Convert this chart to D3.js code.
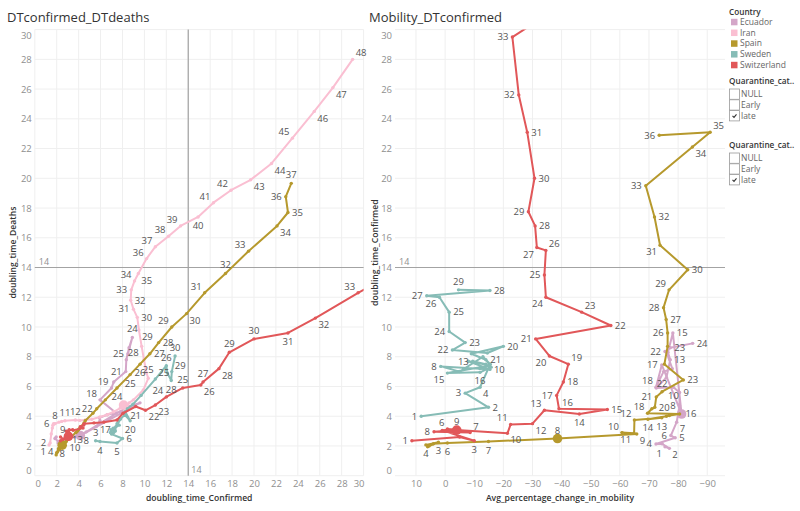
<!DOCTYPE html>
<html><head><meta charset="utf-8">
<script src="https://cdn.jsdelivr.net/npm/d3@7"></script>
<style>
body{margin:0;background:#fff;}
text{font-family:"Open Sans",sans-serif;}
</style></head><body>
<svg id="chart" width="800" height="511"></svg>
<script>
// ---------------- DATA ----------------
const countries = ["Ecuador", "Iran", "Spain", "Sweden", "Switzerland"];
const countryColors = ["#D4A6C8", "#FABFD2", "#B6992D", "#86BCB6", "#E15759"];

// rows: [day, doubling_time_Confirmed, doubling_time_Deaths, Avg_percentage_change_in_mobility]
const ecuador = [
  [1,1.95,2.6,-75.5],[2,1.84,2.5,-77.0],[3,2.15,2.3,-74.5],[4,2.13,2.2,-72.4],[5,2.55,2.35,-79.0],
  [6,2.7,2.5,-77.5],[7,3.6,2.6,-79.5],[8,4.7,2.95,-80.5],[9,5.6,3.3,-80.5],[10,5.95,3.7,-78.4],
  [11,5.9,3.9,-72.5],[12,6.6,4.1,-76.0],[13,7.8,4.3,-77.3],[14,8.3,4.6,-76.5],[15,9.6,4.9,-78.2],
  [16,4.15,2.7,-81.2],[17,7.45,4.2,-74.4],[18,5.95,5.1,-72.4],[19,7.0,5.9,-75.0],[20,7.2,6.3,-78.0],
  [21,8.3,7.0,-76.0],[22,8.35,7.8,-75.5],[23,8.6,8.6,-77.3],[24,8.9,9.3,-85.0],[25,8.5,8.2,null]
];
const iran = [
  [1,1.3,2.06,null],[2,1.4,2.2,null],[3,1.5,2.8,null],[4,1.6,3.2,null],[5,1.65,3.4,null],
  [6,1.7,3.48,null],[7,1.75,3.5,null],[8,1.85,3.5,null],[9,2.2,3.6,null],[10,2.45,3.65,null],
  [11,2.75,3.7,null],[12,3.7,3.75,null],[13,4.1,3.72,null],[14,4.6,3.75,null],[15,5.2,3.8,null],
  [16,5.95,3.95,null],[17,6.6,4.1,null],[18,7.2,4.3,null],[19,7.8,4.55,null],[20,8.1,4.75,null],
  [21,8.4,4.7,null],[22,8.6,4.9,null],[23,9.0,5.1,null],[24,9.9,5.76,null],[25,10.35,6.55,null],
  [26,10.2,6.9,null],[27,9.96,7.8,null],[28,9.75,8.7,null],[29,9.5,9.8,null],[30,9.35,10.65,null],
  [31,9.0,11.2,null],[32,8.75,11.8,null],[33,8.8,12.5,null],[34,9.1,13.1,null],[35,9.45,13.6,null],
  [36,10.2,14.6,null],[37,11.0,15.4,null],[38,12.2,16.1,null],[39,13.3,16.8,null],[40,14.9,17.4,null],
  [41,16.3,18.36,null],[42,17.9,19.2,null],[43,19.7,19.9,null],[44,21.6,21.0,null],[45,23.5,22.7,null],
  [46,25.5,24.5,null],[47,27.2,26.1,null],[48,29.0,28.0,null]
];
const spain = [
  [1,1.95,1.4,6.0],[2,2.0,1.55,5.5],[3,2.25,1.75,2.3],[4,2.07,1.6,6.6],[5,2.15,1.8,4.0],
  [6,2.2,1.85,-0.8],[7,2.3,1.95,-14.9],[8,2.5,2.05,-38.6],[9,2.8,2.25,-65.8],[10,2.9,2.35,-60.7],
  [11,2.85,2.3,-64.9],[12,3.75,2.9,-65.0],[13,3.9,3.0,-74.4],[14,3.8,2.95,-69.6],[15,4.0,3.1,-76.0],
  [16,4.05,3.15,-77.0],[17,4.15,3.25,-80.5],[18,4.2,3.3,-69.5],[19,4.5,3.55,-71.0],[20,4.6,3.7,-72.0],
  [21,5.3,4.2,-72.5],[22,5.65,4.5,-74.5],[23,6.44,5.1,-81.8],[24,7.5,5.9,-75.3],[25,8.7,6.8,-76.4],
  [26,9.6,7.5,-76.4],[27,10.5,8.2,-75.9],[28,11.3,8.95,-75.0],[29,12.5,10.0,-76.9],[30,13.85,10.9,-83.3],
  [31,15.5,12.3,-73.8],[32,17.4,13.6,-71.9],[33,19.5,15.1,-68.9],[34,22.1,16.8,-84.9],[35,23.1,17.7,-91.0],
  [36,22.9,18.76,-73.5],[37,23.4,19.66,null]
];
const sweden = [
  [1,4.0,null,8.2],[2,4.6,null,-14.9],[3,5.55,2.35,-6.9],[4,5.95,2.3,-12.0],[5,7.5,2.2,-15.5],
  [6,8.0,2.5,-13.0],[7,7.0,2.8,-5.0],[8,7.35,3.0,1.5],[9,7.2,2.9,-12.0],[10,7.15,3.2,-15.4],
  [11,7.7,3.4,-8.0],[12,7.5,3.5,-14.0],[13,7.7,3.8,-9.5],[14,7.4,3.3,-15.0],[15,6.9,2.9,-0.8],
  [16,6.95,3.1,-12.0],[17,7.3,3.1,-15.8],[18,7.8,3.8,-14.0],[19,8.2,4.1,-9.0],[20,8.7,3.7,-20.0],
  [21,8.25,4.3,-14.5],[22,8.45,4.5,-2.5],[23,8.95,4.8,-6.9],[24,9.7,5.4,-1.4],[25,11.0,6.5,-1.4],
  [26,12.0,7.4,1.95],[27,12.1,6.9,6.3],[28,12.45,6.4,-15.4],[29,12.5,7.0,-4.6],[30,12.8,8.05,null]
];
const switzerland = [
  [1,2.35,2.6,11.4],[2,2.6,2.45,-5.0],[3,2.35,2.35,-10.0],[4,3.05,2.6,1.0],[5,3.1,2.9,-3.0],
  [6,3.14,3.1,-0.8],[7,2.9,2.75,-8.6],[8,2.96,2.6,3.8],[9,3.07,2.65,-4.0],[10,2.85,3.0,-21.4],
  [11,3.45,3.1,-22.5],[12,3.5,3.05,-30.0],[13,4.4,3.2,-34.1],[14,4.15,3.3,-46.1],[15,4.45,3.4,-55.7],
  [16,4.5,3.5,-39.1],[17,5.4,3.55,-38.3],[18,6.3,3.6,-40.6],[19,7.5,3.75,-42.3],[20,8.05,4.2,-35.8],
  [21,9.2,4.65,-31.1],[22,10.1,4.4,-56.9],[23,11.0,4.75,-46.9],[24,12.0,5.3,-34.6],[25,13.5,5.9,-34.1],
  [26,15.15,6.1,-34.6],[27,15.35,6.3,-31.5],[28,16.8,7.2,-30.9],[29,17.75,8.3,-28.6],[30,20.0,9.2,-30.7],
  [31,23.1,9.6,-28.2],[32,25.6,10.6,-25.3],[33,29.5,12.3,-23.1],[34,31.5,13.1,-39.0]
];
const seriesData = [ecuador, iran, spain, sweden, switzerland];

const yTicks = [0,2,4,6,8,10,12,14,16,18,20,22,24,26,28,30];
const leftXTicks = [0,2,4,6,8,10,12,14,16,18,20,22,24,26,28,30];
const rightXTicks = [10,0,-10,-20,-30,-40,-50,-60,-70,-80,-90];
const referenceValue = 14;
const bigPointDays = [[16],[20],[8],[],[9]];   // highlighted day per country
const quarantineOptions = ["NULL", "Early", "late"];
const quarantineChecked = ["late"];

// labelled days per country (layout hint after colon)
const leftLabelSpec = [
  "24:t 25:l 21:l 19:tl 18:tl 8:b",
  "48:tr 47:br 46:br 45:tl 44:br 43:br 42:tl 41:tl 40:b 39:tl 38:tl 37:tl 36:tl 35:br 34:tl 33:l 32:r 31:l 30:r 29:br 28:bl 25:t 12:t 11:t 8:t 6:l 2:l 1:bl",
  "37:t 36:l 35:r 34:br 33:tl 32:t 31:tl 30:br 29:tl 28:r 27:r 26:b 25:b 24:b 22:l 13:b 10:br 8:b 4:l",
  "30:t 29:tr 28:b 26:t 25:tr 20:b 17:l 6:r 5:b 4:b 3:t",
  "33:tl 32:br 31:b 30:t 29:t 28:br 27:t 26:br 25:t 24:tl 23:br 22:br 21:b 9:tl"
];
const rightLabelSpec = [
  "24:r 23:r 22:l 15:r 13:r 17:l 18:tl 10:b 9:r 8:l 16:r 7:br 6:l 5:r 4:l 1:bl 2:br",
  "",
  "36:l 35:tr 34:br 33:l 32:r 31:bl 30:r 29:tl 28:l 27:r 26:l 23:r 22:t 21:l 20:r 18:tl 14:b 13:b 12:tl 11:bl 10:tl 9:br 8:t 7:b 6:b 4:b 3:b",
  "29:t 28:r 27:l 26:bl 25:r 24:l 23:r 22:l 21:br 20:r 16:b 15:bl 13:l 10:r 8:l 4:br 3:l 2:r 1:l",
  "33:l 32:l 31:r 30:r 29:l 28:r 27:bl 26:tr 25:l 24:bl 23:tr 22:r 21:l 20:bl 19:tr 18:r 17:l 16:tr 15:r 14:b 13:tl 12:br 11:tl 10:br 9:t 8:l 7:tr 6:tl 3:b 1:l"
];

// ---------------- DRAW ----------------
const svg = d3.select("#chart");
const plotTop = 29.6, plotBottom = 475.7;
const y = d3.scaleLinear().domain([0,30]).range([plotBottom, plotTop]);
const xL = d3.scaleLinear().domain([0,30]).range([34.8, 363.6]);
const xR = d3.scaleLinear().domain([17.2,-96.1]).range([395, 725]);

const tickColor = "#8f8f8f", gridColor = "#efefef", refColor = "#a3a3a3";

function panel(opts) {
  const {x, xTicks, title, titleX, xTitle, yTitle, yTitleX, xField, yField, labelSpec, clipId, vRef} = opts;
  const [x0, x1] = x.range();
  const g = svg.append("g");
  svg.append("text").attr("x", titleX).attr("y", 22).attr("font-size", 13).attr("fill", "#333").text(title);
  g.selectAll(".vg").data(xTicks).join("line")
    .attr("x1", d => x(d)).attr("x2", d => x(d)).attr("y1", plotTop).attr("y2", plotBottom)
    .attr("stroke", gridColor).attr("stroke-width", 1);
  g.selectAll(".hg").data(yTicks).join("line")
    .attr("x1", x0).attr("x2", x1).attr("y1", d => y(d)).attr("y2", d => y(d))
    .attr("stroke", gridColor).attr("stroke-width", 1);
  const ya = g.append("g").attr("transform", `translate(${x0},0)`)
    .call(d3.axisLeft(y).tickValues(yTicks).tickSize(0).tickPadding(3));
  ya.select(".domain").remove();
  ya.selectAll("text").attr("font-size", 9.5).attr("fill", tickColor).attr("font-family", "Open Sans")
    .attr("transform", d => d === 30 ? "translate(0,5.5)" : d === 0 ? "translate(0,-5.5)" : null);
  const xa = g.append("g").attr("transform", `translate(0,${plotBottom})`)
    .call(d3.axisBottom(x).tickValues(xTicks).tickSize(0).tickPadding(5));
  xa.select(".domain").remove();
  xa.selectAll("text").attr("font-size", 9.5).attr("fill", tickColor).attr("font-family", "Open Sans")
    .attr("transform", d => (x === xL && d === 0) ? "translate(3,0)" : (x === xL && d === 30) ? "translate(-5,0)" : null);
  svg.append("text").attr("x", (x0 + x1) / 2).attr("y", 501).attr("text-anchor", "middle")
    .attr("font-size", 8.6).attr("font-weight", 600).attr("fill", "#333").text(xTitle);
  svg.append("text").attr("transform", `translate(${yTitleX},${(plotTop + plotBottom) / 2}) rotate(-90)`)
    .attr("text-anchor", "middle").attr("dy", "0.35em")
    .attr("font-size", 8.6).attr("font-weight", 600).attr("fill", "#333").text(yTitle);
  g.append("line").attr("x1", x0).attr("x2", x1).attr("y1", y(referenceValue)).attr("y2", y(referenceValue))
    .attr("stroke", refColor).attr("stroke-width", 1.2);
  g.append("text").attr("x", x0 + 4).attr("y", y(referenceValue) - 3).attr("font-size", 9)
    .attr("fill", tickColor).text(referenceValue);
  if (vRef) {
    g.append("line").attr("x1", x(referenceValue)).attr("x2", x(referenceValue)).attr("y1", plotTop).attr("y2", plotBottom)
      .attr("stroke", refColor).attr("stroke-width", 1.2);
    g.append("text").attr("x", x(referenceValue) + 3).attr("y", plotBottom - 3).attr("font-size", 9)
      .attr("fill", tickColor).text(referenceValue);
  }
  svg.append("clipPath").attr("id", clipId).append("rect")
    .attr("x", x0).attr("y", plotTop).attr("width", x1 - x0).attr("height", plotBottom - plotTop);
  const marks = svg.append("g").attr("clip-path", `url(#${clipId})`);
  const labels = svg.append("g");
  const offs = {r:[4,0,"start","0.35em"], l:[-4,0,"end","0.35em"], t:[0,-5,"middle","0em"], b:[0,5,"middle","0.75em"],
    tr:[3,-3,"start","0em"], tl:[-3,-3,"end","0em"], br:[3,3,"start","0.75em"], bl:[-3,3,"end","0.75em"]};

  countries.forEach((c, i) => {
    const rows = seriesData[i].filter(r => r[xField] != null && r[yField] != null);
    if (!rows.length) return;
    const col = countryColors[i];
    const line = d3.line().x(r => x(r[xField])).y(r => y(r[yField]));
    marks.append("path").datum(rows).attr("d", line).attr("fill", "none")
      .attr("stroke", col).attr("stroke-width", 2).attr("stroke-linejoin", "round");
    marks.selectAll(null).data(rows).join("circle")
      .attr("cx", r => x(r[xField])).attr("cy", r => y(r[yField]))
      .attr("r", r => bigPointDays[i].includes(r[0]) ? 4.8 : 1.7)
      .attr("fill", col);
    const spec = labelSpec[i].split(" ").filter(Boolean).map(s => s.split(":"));
    spec.forEach(([day, dir]) => {
      const r = rows.find(rr => rr[0] === +day);
      if (!r) return;
      const px = x(r[xField]), py = y(r[yField]);
      if (px < x0 || px > x1 || py < plotTop || py > plotBottom) return;
      const o = offs[dir] || offs.r;
      labels.append("text").attr("x", px + o[0]).attr("y", py + o[1]).attr("dy", o[3])
        .attr("text-anchor", o[2]).attr("font-size", 9.5).attr("fill", "#555").text(day);
    });
  });
}

panel({x: xL, xTicks: leftXTicks, title: "DTconfirmed_DTdeaths", titleX: 7,
  xTitle: "doubling_time_Confirmed", yTitle: "doubling_time_Deaths", yTitleX: 13,
  xField: 1, yField: 2, labelSpec: leftLabelSpec, clipId: "clipL", vRef: true});
panel({x: xR, xTicks: rightXTicks, title: "Mobility_DTconfirmed", titleX: 369,
  xTitle: "Avg_percentage_change_in_mobility", yTitle: "doubling_time_Confirmed", yTitleX: 375,
  xField: 3, yField: 1, labelSpec: rightLabelSpec, clipId: "clipR", vRef: false});

// ---------------- LEGEND ----------------
const lg = svg.append("g");
lg.append("text").attr("x", 729).attr("y", 15).attr("font-size", 8.2).attr("font-weight", 600).attr("fill", "#333").text("Country");
countries.forEach((c, i) => {
  const cy = 22 + i * 10.75;
  lg.append("rect").attr("x", 731).attr("y", cy - 3.2).attr("width", 6.5).attr("height", 6.5).attr("fill", countryColors[i]);
  lg.append("text").attr("x", 740).attr("y", cy).attr("dy", "0.35em").attr("font-size", 8.5).attr("fill", "#666").text(c);
});
function checkGroup(top) {
  lg.append("text").attr("x", 729).attr("y", top).attr("font-size", 8.2).attr("font-weight", 600).attr("fill", "#333").text("Quarantine_cat..");
  quarantineOptions.forEach((q, j) => {
    const cy = top + 10 + j * 10.8;
    lg.append("rect").attr("x", 729.5).attr("y", cy - 5).attr("width", 10).attr("height", 10.3)
      .attr("fill", "#fff").attr("stroke", "#9a9a9a").attr("stroke-width", 0.8);
    if (quarantineChecked.includes(q)) {
      lg.append("path").attr("d", `M${732.5},${cy + 0.3} L${734},${cy + 1.8} L${736.5},${cy - 1.2}`)
        .attr("fill", "none").attr("stroke", "#333").attr("stroke-width", 1.1);
    }
    lg.append("text").attr("x", 741).attr("y", cy).attr("dy", "0.35em").attr("font-size", 8.5).attr("fill", "#666").text(q);
  });
}
checkGroup(84);
checkGroup(148);
</script>
</body></html>
